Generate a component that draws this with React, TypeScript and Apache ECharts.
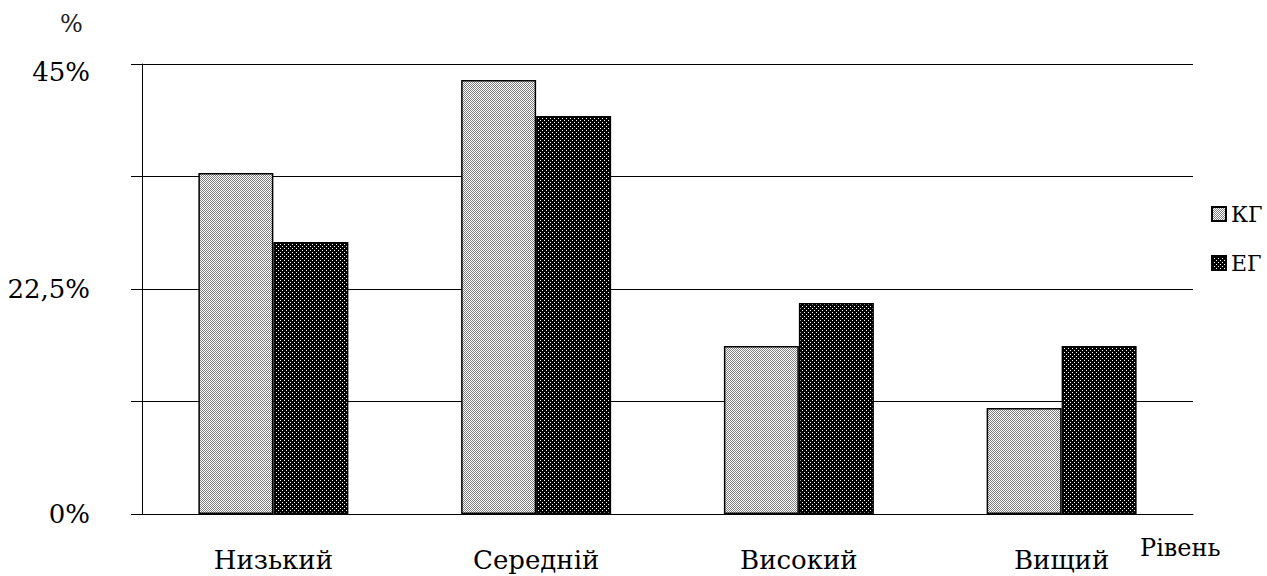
import React, { useEffect, useRef } from "react";
import * as echarts from "echarts";

const categories = ["Низький", "Середній", "Високий", "Вищий"];
const seriesNames = ["КГ", "ЕГ"];
const kgValues = [34.1, 43.4, 16.8, 10.6];
const egValues = [27.2, 39.8, 21.1, 16.8];
const yTicksShown: Record<string, string> = { "0": "0%", "22.5": "22,5%", "45": "{t|45%}" };

function makePattern(bg: string, dot: string, size: number, dots: [number, number][]) {
  const c = document.createElement("canvas");
  c.width = size;
  c.height = size;
  const ctx = c.getContext("2d")!;
  ctx.fillStyle = bg;
  ctx.fillRect(0, 0, size, size);
  ctx.fillStyle = dot;
  dots.forEach(([x, y]) => ctx.fillRect(x, y, 1, 1));
  return c;
}

export default function App() {
  const ref = useRef<HTMLDivElement>(null);
  useEffect(() => {
    document.body.style.margin = "0";
    const chart = echarts.init(ref.current!, undefined, { renderer: "svg" });
    const lightPat = makePattern("#ffffff", "#808080", 2, [[0, 0], [1, 1]]);
    const darkPat = makePattern("#000000", "#ffffff", 4, [[0, 0], [2, 2]]);
    const font = "DejaVu Serif";
    chart.setOption({
      animation: false,
      textStyle: { fontFamily: font, color: "#000" },
      grid: { left: 142, right: 74, top: 64, bottom: 62 },
      legend: {
        orient: "vertical",
        left: 1206,
        top: 198,
        itemWidth: 14,
        itemHeight: 14,
        itemGap: 27,
        icon: "rect",
        textStyle: { fontFamily: font, fontSize: 22, color: "#000" },
        data: seriesNames,
      },
      xAxis: {
        type: "category",
        data: categories,
        axisLine: { lineStyle: { color: "#000", width: 1 } },
        axisTick: { length: 8, lineStyle: { color: "#000" } },
        axisLabel: { fontFamily: font, fontSize: 26, color: "#000", margin: 33 },
      },
      yAxis: {
        type: "value",
        min: 0,
        max: 45,
        interval: 11.25,
        axisLine: { show: true, lineStyle: { color: "#000", width: 1 } },
        axisTick: { show: true, length: 11, lineStyle: { color: "#000" } },
        splitLine: { lineStyle: { color: "#000", width: 1 } },
        axisLabel: {
          fontFamily: font,
          fontSize: 26,
          color: "#000",
          margin: 52,
          formatter: (v: number) => yTicksShown[String(v)] ?? "",
          rich: { t: { fontFamily: font, fontSize: 26, color: "#000", padding: [16, 0, 0, 0] } },
        },
      },
      graphic: [
        { type: "text", left: 60, top: 12, style: { text: "%", fontFamily: font, fontSize: 24, fill: "#222" } },
        { type: "text", left: 1140, top: 536, style: { text: "Рівень", fontFamily: font, fontSize: 24, fill: "#000" } },
      ],
      series: [
        {
          name: seriesNames[0],
          type: "bar",
          data: kgValues,
          barWidth: 75,
          barGap: "0%",
          itemStyle: { color: { image: lightPat, repeat: "repeat" }, borderColor: "#000", borderWidth: 1.5 },
        },
        {
          name: seriesNames[1],
          type: "bar",
          data: egValues,
          barWidth: 75,
          barGap: "0%",
          itemStyle: { color: { image: darkPat, repeat: "repeat" }, borderColor: "#000", borderWidth: 1.5 },
        },
      ],
    });
    return () => chart.dispose();
  }, []);
  return <div ref={ref} style={{ width: 1267, height: 576 }} />;
}
